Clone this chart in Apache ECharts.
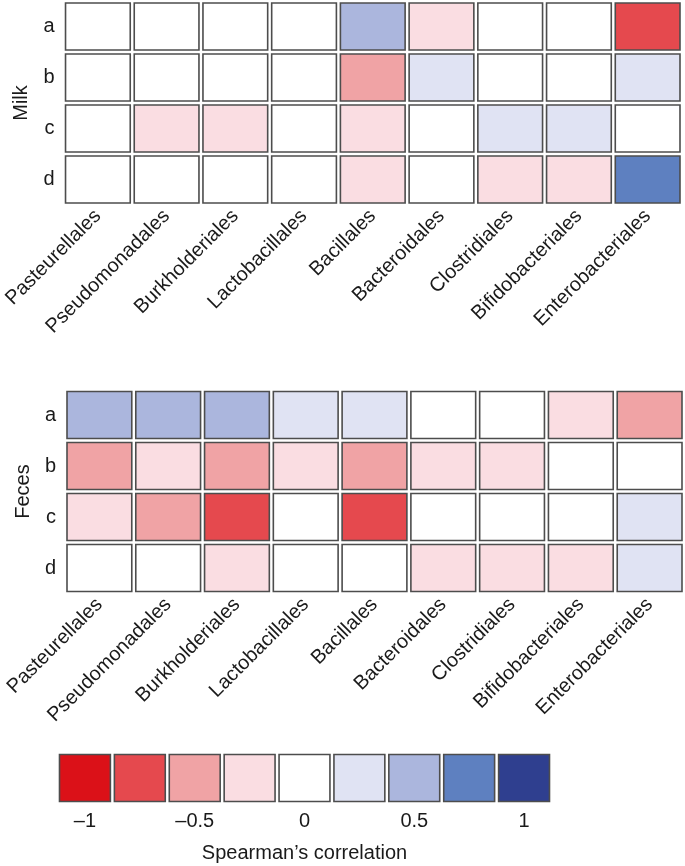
<!DOCTYPE html>
<html>
<head>
<meta charset="utf-8">
<script src="https://cdn.jsdelivr.net/npm/echarts@6/dist/echarts.min.js"></script>
<style>
html,body{margin:0;padding:0;background:#fff;}
#chart{width:685px;height:866px;}
</style>
</head>
<body>
<div id="chart"></div>
<script>
const orders = ['Pasteurellales','Pseudomonadales','Burkholderiales','Lactobacillales','Bacillales','Bacteroidales','Clostridiales','Bifidobacteriales','Enterobacteriales'];
const rows = ['a','b','c','d'];

const milkA = [0, 0, 0, 0, 0.5, -0.25, 0, 0, -0.75];
const milkB = [0, 0, 0, 0, -0.5, 0.25, 0, 0, 0.25];
const milkC = [0, -0.25, -0.25, 0, -0.25, 0, 0.25, 0.25, 0];
const milkD = [0, 0, 0, 0, -0.25, 0, -0.25, -0.25, 0.75];

const fecesA = [0.5, 0.5, 0.5, 0.25, 0.25, 0, 0, -0.25, -0.5];
const fecesB = [-0.5, -0.25, -0.5, -0.25, -0.5, -0.25, -0.25, 0, 0];
const fecesC = [-0.25, -0.5, -0.75, 0, -0.75, 0, 0, 0, 0.25];
const fecesD = [0, 0, -0.25, 0, 0, -0.25, -0.25, -0.25, 0.25];

const legendValues = [-1, -0.75, -0.5, -0.25, 0, 0.25, 0.5, 0.75, 1];
const legendTicks = ['\u20131', '', '\u20130.5', '', '0', '', '0.5', '', '1'];

const palette = ['#db1118','#e5494e','#f0a3a5','#fadde2','#ffffff','#e0e3f3','#abb6dd','#5e80c0','#2f3f8f'];

function toCells(rowsArr) {
  const out = [];
  rowsArr.forEach((r, yi) => r.forEach((v, xi) => out.push([xi, yi, v])));
  return out;
}
const milkCells = toCells([milkA, milkB, milkC, milkD]);
const fecesCells = toCells([fecesA, fecesB, fecesC, fecesD]);
const legendCells = legendValues.map((v, i) => [i, 0, v]);

function renderCell(params, api) {
  const p = api.coord([api.value(0), api.value(1)]);
  const s = api.size([1, 1]);
  const v = api.value(2);
  const idx = Math.max(0, Math.min(8, Math.round((v + 1) * 4)));
  const g = 2;
  return {
    type: 'rect',
    shape: {x: p[0] - s[0] / 2 + g, y: p[1] - s[1] / 2 + g, width: s[0] - 2 * g, height: s[1] - 2 * g},
    style: {fill: palette[idx], stroke: '#4d4d4d', lineWidth: 1.6}
  };
}

const font = 'Liberation Sans';
const txt = '#1a1a1a';

function xAx(gi, data, rotate, extra) {
  return Object.assign({
    type: 'category', gridIndex: gi, data: data,
    axisLine: {show: false}, axisTick: {show: false}, splitLine: {show: false},
    axisLabel: {interval: 0, rotate: rotate, fontSize: 20, fontFamily: font, color: txt, margin: 8}
  }, extra || {});
}
function yAx(gi, data, name) {
  return {
    type: 'category', gridIndex: gi, data: data, inverse: true,
    axisLine: {show: false}, axisTick: {show: false}, splitLine: {show: false},
    axisLabel: {fontSize: 20, fontFamily: font, color: txt, margin: 9},
    name: name, nameLocation: 'middle', nameRotate: 90, nameGap: 32,
    nameTextStyle: {fontSize: 20, fontFamily: font, color: txt}
  };
}

const chart = echarts.init(document.getElementById('chart'), null, {renderer: 'canvas'});
chart.setOption({
  backgroundColor: '#ffffff',
  animation: false,
  grid: [
    {left: 61, top: 1, width: 621, height: 204},
    {left: 65, top: 389.5, width: 619, height: 204},
    {left: 57.5, top: 752.5, width: 494, height: 51}
  ],
  xAxis: [
    xAx(0, orders, 45),
    xAx(1, orders, 45),
    xAx(2, legendTicks, 0, {
      name: 'Spearman\u2019s correlation', nameLocation: 'middle', nameGap: 40,
      nameTextStyle: {fontSize: 20, fontFamily: font, color: txt}
    })
  ],
  yAxis: [
    yAx(0, rows, 'Milk'),
    yAx(1, rows, 'Feces'),
    {type: 'category', gridIndex: 2, data: [''], show: false}
  ],
  series: [
    {type: 'custom', xAxisIndex: 0, yAxisIndex: 0, data: milkCells, renderItem: renderCell},
    {type: 'custom', xAxisIndex: 1, yAxisIndex: 1, data: fecesCells, renderItem: renderCell},
    {type: 'custom', xAxisIndex: 2, yAxisIndex: 2, data: legendCells, renderItem: renderCell}
  ]
});
</script>
</body>
</html>
